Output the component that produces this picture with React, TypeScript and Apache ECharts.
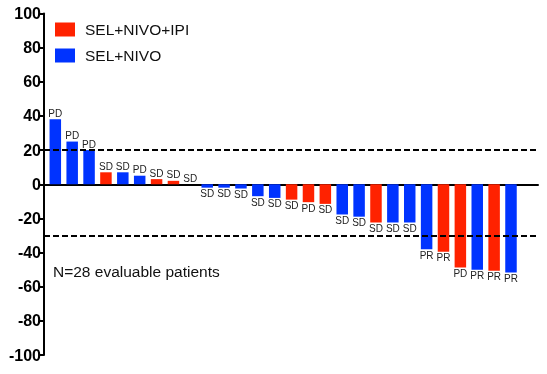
import React, { useEffect, useRef } from "react";
import * as echarts from "echarts";

const patients = [1, 2, 3, 4, 5, 6, 7, 8, 9, 10, 11, 12, 13, 14, 15, 16, 17, 18, 19, 20, 21, 22, 23, 24, 25, 26, 27, 28];
const responses = [38, 25, 20, 7, 7, 5, 3, 2, 0, -2, -2, -2.5, -7, -8, -9, -10.5, -11.5, -17.7, -19, -22.4, -22.4, -22.4, -38, -39.6, -48.7, -50, -50.7, -51.7];
const arms = ["N", "N", "N", "I", "N", "N", "I", "I", "N", "N", "N", "N", "N", "N", "I", "I", "I", "N", "N", "I", "N", "N", "N", "I", "I", "N", "I", "N"];
const bestResponse = ["PD", "PD", "PD", "SD", "SD", "PD", "SD", "SD", "SD", "SD", "SD", "SD", "SD", "SD", "SD", "PD", "SD", "SD", "SD", "SD", "SD", "SD", "PR", "PR", "PD", "PR", "PR", "PR"];
const seriesNames = ["SEL+NIVO+IPI", "SEL+NIVO"];
const seriesKeys = ["I", "N"];
const seriesColors = ["#ff2200", "#0033ff"];
const thresholds = [20, -30];
const yTicks = { min: -100, max: 100, interval: 20 };
const note = "N=28 evaluable patients";

const FONT = "'Liberation Sans', Arial, Helvetica, sans-serif";

export default function App() {
  const ref = useRef<HTMLDivElement>(null);
  useEffect(() => {
    if (!ref.current) return;
    const chart = echarts.init(ref.current, null, { renderer: "svg" });
    const series: any[] = seriesKeys.map((key, si) => ({
      name: seriesNames[si],
      type: "bar",
      barWidth: 11.5,
      barGap: "-100%",
      itemStyle: { color: seriesColors[si] },
      label: {
        show: true,
        formatter: "{b}",
        fontSize: 10,
        fontFamily: FONT,
        color: "#222",
        distance: 1,
      },
      data: patients
        .map((p, i) => ({ p, i }))
        .filter(({ i }) => arms[i] === key)
        .map(({ p, i }) => ({
          name: bestResponse[i],
          value: [p, responses[i]],
          label: { position: responses[i] < 0 ? "bottom" : "top" },
        })),
      markLine:
        si === 0
          ? {
              silent: true,
              symbol: "none",
              label: { show: false },
              lineStyle: { color: "#000", type: [6, 3], width: 2 },
              data: thresholds.map((t) => ({ yAxis: t })),
            }
          : undefined,
    }));
    chart.setOption({
      animation: false,
      grid: { left: 44, right: 9, top: 13.5, bottom: 19 },
      legend: {
        data: seriesNames,
        orient: "vertical",
        left: 55,
        top: 21.5,
        padding: 0,
        itemWidth: 20,
        itemHeight: 14,
        itemGap: 10,
        icon: "rect",
        textStyle: { fontSize: 15.5, color: "#111", fontFamily: FONT, padding: [0, 0, 0, 5] },
      },
      xAxis: {
        type: "value",
        min: 0.33,
        max: 29.6,
        axisLine: { onZero: true, lineStyle: { color: "#000", width: 2 } },
        axisTick: { show: false },
        axisLabel: { show: false },
        splitLine: { show: false },
      },
      yAxis: {
        type: "value",
        min: yTicks.min,
        max: yTicks.max,
        interval: yTicks.interval,
        axisLine: { show: true, onZero: false, lineStyle: { color: "#000", width: 2 } },
        axisTick: { show: true, length: 5, lineStyle: { color: "#000", width: 2 } },
        axisLabel: { fontSize: 16, fontWeight: "bold", color: "#000", fontFamily: FONT, margin: 3 },
        splitLine: { show: false },
      },
      graphic: [
        {
          type: "text",
          left: 53,
          top: 263,
          style: { text: note, fontSize: 15.5, fill: "#111", fontFamily: FONT },
        },
      ],
      series,
    });
    return () => chart.dispose();
  }, []);
  return <div ref={ref} style={{ position: "fixed", left: 0, top: 0, width: 547, height: 374 }} />;
}
